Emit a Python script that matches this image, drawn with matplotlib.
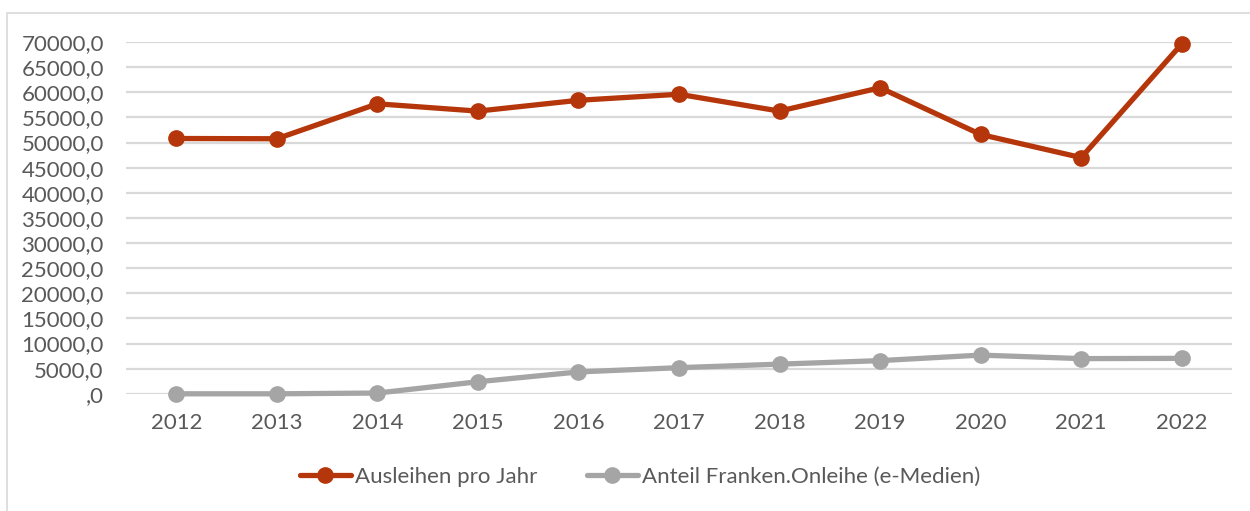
import matplotlib.pyplot as plt
from matplotlib.patches import Rectangle
from matplotlib.ticker import FuncFormatter

# Data
years = ['2012', '2013', '2014', '2015', '2016', '2017', '2018', '2019', '2020', '2021', '2022']
ausleihen = [50800, 50750, 57700, 56250, 58400, 59600, 56250, 60900, 51600, 47000, 69600]
onleihe = [0, 0, 150, 2400, 4350, 5200, 5900, 6600, 7700, 7000, 7050]
y_ticks = list(range(0, 70001, 5000))

plt.rcParams['font.family'] = ['Lato', 'DejaVu Sans']

fig = plt.figure(figsize=(12.5, 5.11), dpi=100)

# light chart-area frame (clipped at right and bottom like the original)
fig.patches.append(Rectangle((7 / 1250, -0.1), 1.2, 1 - 13 / 511 + 0.1,
                             transform=fig.transFigure, fill=False,
                             edgecolor='#D9D9D9', linewidth=1.2))

ax = fig.add_axes([126 / 1250, 1 - 393.8 / 511, (1232 - 126) / 1250, (393.8 - 42) / 511])

x = range(len(years))
ax.plot(x, ausleihen, color='#B5360A', linewidth=3.8, marker='o', markersize=11,
        label='Ausleihen pro Jahr', solid_capstyle='round', zorder=3, clip_on=False)
ax.plot(x, onleihe, color='#A5A5A5', linewidth=3.8, marker='o', markersize=11,
        label='Anteil Franken.Onleihe (e-Medien)', solid_capstyle='round', zorder=3,
        clip_on=False)

ax.set_xlim(-0.5, len(years) - 0.5)
ax.set_ylim(0, 70000)
ax.set_xticks(list(x))
ax.set_xticklabels(years)
ax.set_yticks(y_ticks)

def fmt(v, pos):
    return ',0' if v == 0 else f'{int(v)},0'

ax.yaxis.set_major_formatter(FuncFormatter(fmt))
ax.tick_params(axis='both', length=0, labelsize=16, colors='#595959')
ax.tick_params(axis='x', pad=14)
ax.tick_params(axis='y', pad=16)
ax.grid(axis='y', color='#D9D9D9', linewidth=1.6)
ax.set_axisbelow(True)
for s in ax.spines.values():
    s.set_visible(False)

fig.legend(loc='center', bbox_to_anchor=(640 / 1250, 1 - 477 / 511), ncol=2,
           frameon=False, fontsize=16, handlelength=2.3, handletextpad=0.2,
           columnspacing=2.2, labelcolor='#595959')

fig.savefig('out.png', dpi=100)
